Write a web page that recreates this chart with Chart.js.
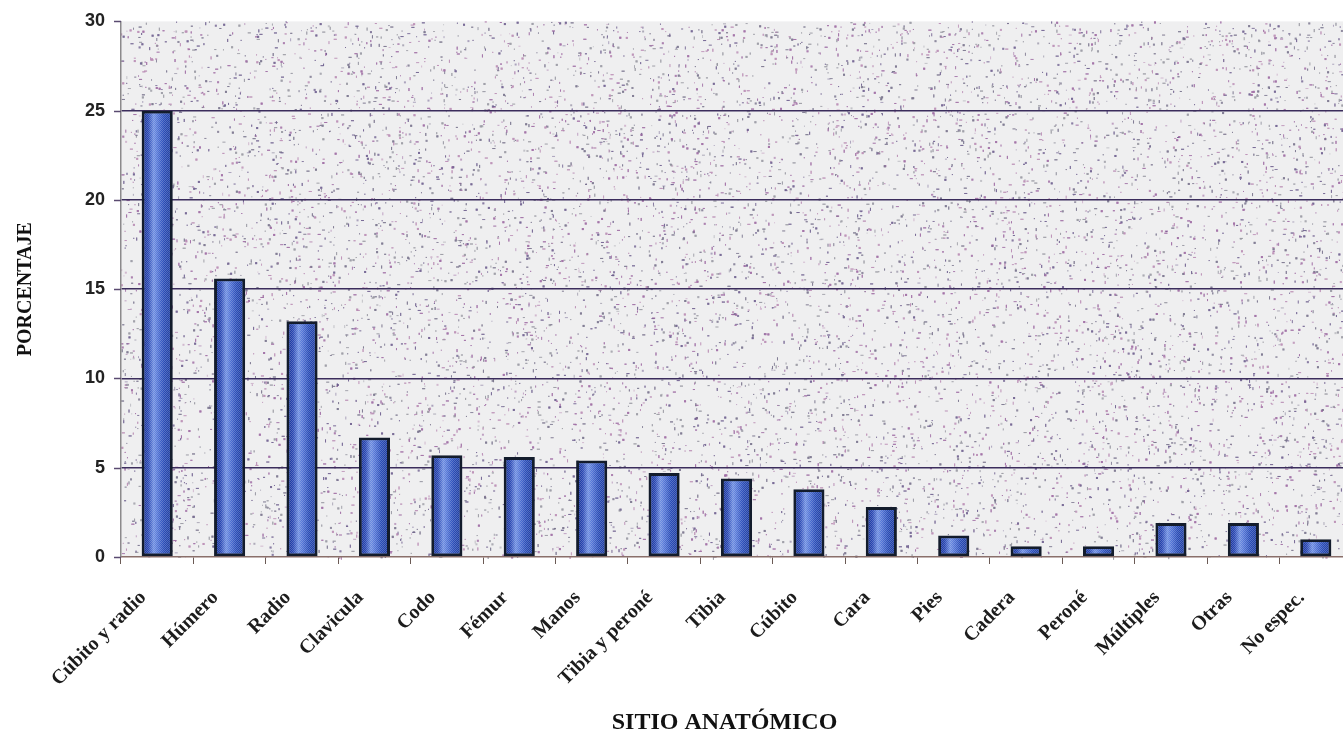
<!DOCTYPE html>
<html>
<head>
<meta charset="utf-8">
<script src="https://cdn.jsdelivr.net/npm/chart.js@4/dist/chart.umd.min.js"></script>
<style>
  html, body { margin: 0; padding: 0; background: #ffffff; overflow: hidden; }
  #wrap { position: relative; width: 1343px; height: 740px; overflow: hidden; }
  #box { position: absolute; left: 0; top: 0; width: 1362px; height: 740px; }
</style>
</head>
<body>
<div id="wrap"><div id="box"><canvas id="c"></canvas></div></div>
<script>
// Fracturas por sitio anatómico (%)
const sitios = ['Cúbito y radio', 'Húmero', 'Radio', 'Clavicula', 'Codo', 'Fémur', 'Manos',
  'Tibia y peroné', 'Tibia', 'Cúbito', 'Cara', 'Pies', 'Cadera', 'Peroné', 'Múltiples', 'Otras', 'No espec.'];
const porcentajes = [25.0, 15.6, 13.2, 6.7, 5.7, 5.6, 5.4, 4.7, 4.4, 3.8, 2.8, 1.2, 0.6, 0.6, 1.9, 1.9, 1.0];
const yTicks = [0, 5, 10, 15, 20, 25, 30];

const SERIF = '"Liberation Serif", "Times New Roman", serif';

// Speckled fill behind the plot area (seeded so it is the same every load)
const texturePlugin = {
  id: 'texture',
  beforeDraw(chart) {
    const { ctx, chartArea: a } = chart;
    ctx.save();
    ctx.fillStyle = '#efeff0';
    ctx.fillRect(a.left, a.top, a.right - a.left, a.bottom - a.top);
    let s = 12345;
    const rnd = () => { s = (s * 1103515245 + 12345) % 2147483648; return s / 2147483648; };
    const cols = ['rgba(160,110,165,0.6)', 'rgba(120,115,140,0.55)', 'rgba(185,140,180,0.55)', 'rgba(105,90,140,0.5)', 'rgba(150,150,160,0.5)'];
    const w = a.right - a.left, h = a.bottom - a.top;
    for (let i = 0; i < 30000; i++) {
      const x = a.left + rnd() * w, y = a.top + rnd() * h;
      ctx.fillStyle = cols[Math.floor(rnd() * cols.length)];
      const len = 1 + Math.floor(rnd() * 3);
      const r = rnd();
      if (r < 0.4) ctx.fillRect(x, y, len, 1);
      else if (r < 0.8) ctx.fillRect(x, y, 1, len);
      else ctx.fillRect(x, y, 2, 2);
    }
    ctx.restore();
  }
};

// Shaded, dithered interior for each bar (outline comes from the dataset)
const barShadePlugin = {
  id: 'barShade',
  afterDatasetsDraw(chart) {
    const ctx = chart.ctx;
    const pc = document.createElement('canvas');
    pc.width = 2; pc.height = 2;
    const p = pc.getContext('2d');
    p.fillStyle = 'rgba(255,255,255,0.22)';
    p.fillRect(0, 0, 1, 1); p.fillRect(1, 1, 1, 1);
    const pat = ctx.createPattern(pc, 'repeat');
    ctx.save();
    chart.getDatasetMeta(0).data.forEach(el => {
      const bw = el.options.borderWidth;
      const x0 = el.x - el.width / 2 + bw, w = el.width - 2 * bw;
      const top = Math.min(el.y, el.base) + bw, h = Math.abs(el.base - el.y) - 2 * bw;
      if (w <= 0 || h <= 0) return;
      const g = ctx.createLinearGradient(x0, 0, x0 + w, 0);
      g.addColorStop(0, '#1d389e');
      g.addColorStop(0.14, '#2846b2');
      g.addColorStop(0.36, '#6f8fe2');
      g.addColorStop(0.52, '#5274d6');
      g.addColorStop(0.76, '#2a4db8');
      g.addColorStop(1, '#1f3ea2');
      ctx.fillStyle = g;
      ctx.fillRect(x0, top, w, h);
      ctx.fillStyle = pat;
      ctx.fillRect(x0, top, w, h);
    });
    ctx.restore();
  }
};

// Short outward tick marks on the value axis
const yTickMarks = {
  id: 'yTickMarks',
  afterDraw(chart) {
    const { ctx } = chart, y = chart.scales.y, left = chart.chartArea.left;
    ctx.save();
    ctx.strokeStyle = '#5a4a70';
    ctx.lineWidth = 1.5;
    yTicks.forEach(v => {
      const py = Math.round(y.getPixelForValue(v)) + 0.5;
      ctx.beginPath(); ctx.moveTo(left - 7, py); ctx.lineTo(left, py); ctx.stroke();
    });
    ctx.restore();
  }
};

new Chart(document.getElementById('c'), {
  type: 'bar',
  data: {
    labels: sitios,
    datasets: [{
      data: porcentajes,
      backgroundColor: '#2f52b0',
      borderColor: '#131c2c',
      borderWidth: 3,
      borderSkipped: false,
      barPercentage: 0.43,
      categoryPercentage: 1.0
    }]
  },
  options: {
    responsive: true,
    maintainAspectRatio: false,
    animation: false,
    devicePixelRatio: 1,
    layout: { padding: { top: 9, right: 10, left: 0, bottom: 0 } },
    plugins: { legend: { display: false }, tooltip: { enabled: false } },
    scales: {
      x: {
        offset: true,
        grid: { offset: true, drawOnChartArea: false, drawTicks: true, tickLength: 7, color: '#6b5a55', lineWidth: 1 },
        border: { display: true, color: '#8a6f6a', width: 1.5 },
        ticks: {
          maxRotation: 45, minRotation: 45, autoSkip: false, padding: 8,
          color: '#1c1c1c',
          font: { family: SERIF, size: 20, weight: 'bold' },
          // two en-spaces keep the rotated text clear of the tick mark
          callback: (v, i) => sitios[i] + '\u2002\u2002'
        },
        title: {
          display: true, text: 'SITIO ANATÓMICO\u2003', color: '#111',
          font: { family: SERIF, size: 24, weight: 'bold' },
          padding: { top: 10, bottom: 3 }
        },
        afterFit(s) { s.height = 183; }
      },
      y: {
        min: 0, max: 30,
        afterBuildTicks(s) { s.ticks = yTicks.map(v => ({ value: v })); },
        grid: {
          color: c => (c.tick && (c.tick.value === 0 || c.tick.value === 30)) ? 'rgba(0,0,0,0)' : '#3b2d5c',
          lineWidth: 1.6,
          drawTicks: false
        },
        border: { display: true, color: '#8c8a8c', width: 1.5 },
        ticks: {
          padding: 16, color: '#222',
          font: { family: '"Liberation Sans", Arial, sans-serif', size: 18, weight: 'bold', lineHeight: 0.6 }
        },
        title: {
          display: true, text: 'PORCENTAJE', color: '#111',
          font: { family: SERIF, size: 20, weight: 'bold' },
          padding: { top: 14, bottom: 0 }
        },
        afterFit(s) { s.width = 121; }
      }
    }
  },
  plugins: [texturePlugin, barShadePlugin, yTickMarks]
});
</script>
</body>
</html>
